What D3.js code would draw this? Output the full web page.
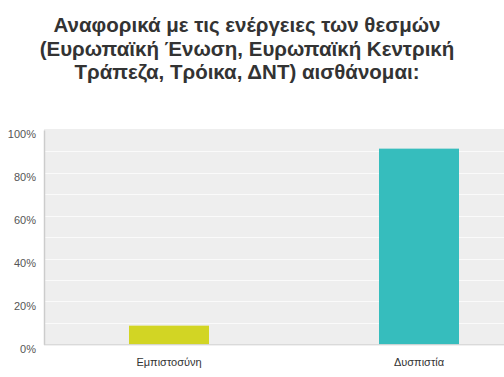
<!DOCTYPE html>
<html><head><meta charset="utf-8">
<script src="https://cdnjs.cloudflare.com/ajax/libs/d3/7.8.5/d3.min.js"></script>
<style>html,body{margin:0;padding:0;background:#fff;}svg{display:block;}</style>
</head><body>
<script>
const titleLines = ["Αναφορικά με τις ενέργειες των θεσμών", "(Ευρωπαϊκή Ένωση, Ευρωπαϊκή Κεντρική", "Τράπεζα, Τρόικα, ΔΝΤ) αισθάνομαι:"];
const categories = ["Εμπιστοσύνη", "Δυσπιστία"];
const values = [8.7, 91.3];
const colors = ["#d2d524", "#36bdbd"];
const yTicks = [0, 20, 40, 60, 80, 100];
const gridTicks = [10, 20, 30, 40, 50, 60, 70, 80, 90];

(function () {
const W = 504, H = 377;
const svg = d3.select("body").append("svg").attr("width", W).attr("height", H);
const font = "'Liberation Sans', Arial, sans-serif";

svg.append("g").selectAll("text").data(titleLines).join("text")
  .attr("x", 247).attr("y", (d, i) => 32 + i * 23.5)
  .attr("text-anchor", "middle").attr("font-family", font)
  .attr("font-weight", "bold").attr("font-size", 20.5).attr("fill", "#333")
  .text(d => d);

const pl = 44, pr = 544, pt = 130, pb = 344.3;
const x = d3.scaleBand().domain(categories).range([pl, pr]).paddingInner(0.68).paddingOuter(0.34);
const y = d3.scaleLinear().domain([0, 100]).range([pb, pt]);

svg.append("rect").attr("x", pl).attr("y", pt - 1).attr("width", W - pl).attr("height", pb - pt + 1).attr("fill", "#eeeeee");

svg.append("g").selectAll("line").data(gridTicks).join("line")
  .attr("x1", pl).attr("x2", W).attr("y1", d => Math.round(y(d)) + 0.5).attr("y2", d => Math.round(y(d)) + 0.5)
  .attr("stroke", "#fafafa").attr("stroke-width", 1);

svg.append("g").selectAll("rect").data(categories).join("rect")
  .attr("x", d => x(d)).attr("width", x.bandwidth())
  .attr("y", (d, i) => y(values[i])).attr("height", (d, i) => y(0) - y(values[i]))
  .attr("fill", (d, i) => colors[i]);

const yAxis = svg.append("g").attr("transform", `translate(${pl},0)`)
  .call(d3.axisLeft(y).tickValues(yTicks).tickFormat(d => d + "%").tickSize(0).tickPadding(8));
yAxis.select(".domain").attr("stroke", "#cccccc").attr("stroke-width", 1.5);
yAxis.selectAll("text").attr("font-family", font).attr("font-size", 11).attr("fill", "#555").attr("dy", "0.7em");

const xAxis = svg.append("g").attr("transform", `translate(0,${pb})`)
  .call(d3.axisBottom(x).tickSize(0).tickPadding(14));
xAxis.select(".domain").remove();
svg.append("line").attr("x1", pl).attr("x2", W).attr("y1", pb + 0.5).attr("y2", pb + 0.5).attr("stroke", "#cccccc");
xAxis.selectAll("text").attr("font-family", font).attr("font-size", 11).attr("fill", "#333");
})();
</script>
</body></html>
